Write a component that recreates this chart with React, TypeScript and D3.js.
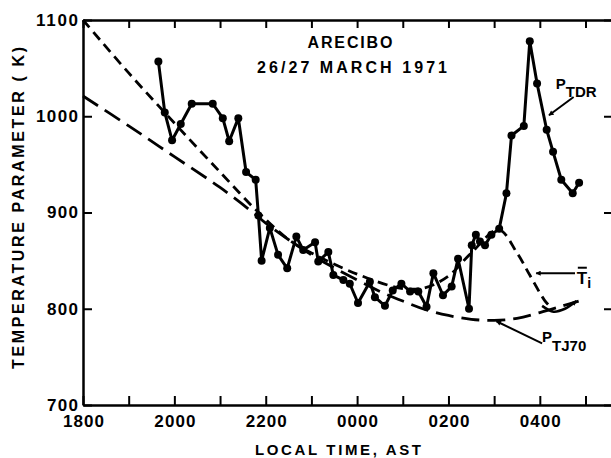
import React, { useEffect, useRef } from 'react'
import * as d3 from 'd3'

// time is hours after 1800 AST
const ptdrHours = [
    1.65, 1.79, 1.95, 2.14, 2.38, 2.84, 3.06, 3.2, 3.4, 3.57, 3.78, 3.84, 3.91,
    4.09, 4.27, 4.47, 4.67, 4.82, 5.08, 5.15, 5.37, 5.48, 5.7, 5.84, 6.02, 6.28,
    6.39, 6.61, 6.78, 6.97, 7.16, 7.34, 7.52, 7.67, 7.88, 8.07, 8.21, 8.45, 8.51,
    8.6, 8.69, 8.8, 8.94, 9.11, 9.27, 9.38, 9.65, 9.78, 9.94, 10.15, 10.29,
    10.47, 10.72, 10.86,
]
const ptdrValues = [
    1057, 1004, 975, 992, 1013, 1013, 998, 974, 998, 942, 934, 897, 850,
    884, 856, 842, 875, 861, 869, 849, 859, 835, 830, 826, 806, 828,
    812, 803, 819, 826, 818, 818, 802, 837, 814, 823, 852, 800, 866,
    877, 870, 866, 877, 883, 920, 980, 990, 1078, 1034, 986, 963,
    934, 920, 931,
]

const tiHours = [0, 1, 2, 3, 3.8, 4.5, 5, 6, 7, 7.5, 8, 8.5, 9.1, 9.5, 9.78, 10.1, 10.25]
const tiValues = [1100, 1045, 993, 942, 902, 872, 858, 836, 821, 822, 834, 858, 882, 858, 835, 809, 801]

const tj70Hours = [0, 1, 2, 3, 3.8, 4, 5, 6, 6.5, 7, 7.5, 8, 8.5, 9, 9.5, 10, 10.5, 10.85]
const tj70Values = [1021, 990, 958, 926, 897, 889, 856, 830, 818, 808, 799, 793, 789, 788, 790, 796, 803, 808]

const yTicks = [700, 800, 900, 1000, 1100]
const xTickHours = [0, 1, 2, 3, 4, 5, 6, 7, 8, 9, 10, 11]
const xTickLabels = ['1800', '', '2000', '', '2200', '', '0000', '', '0200', '', '0400', '']

const FONT = "'Liberation Sans', Arial, sans-serif"

export default function App() {
    const svgRef = useRef(null)

    useEffect(() => {
        const W = 611
        const H = 458
        const svg = d3.select(svgRef.current).attr('width', W).attr('height', H)
        svg.selectAll('*').remove()

        const x = d3.scaleLinear().domain([0, 11.58]).range([83, 612])
        const y = d3.scaleLinear().domain([700, 1100]).range([405, 20])

        const defs = svg.append('defs')
        defs.append('marker')
            .attr('id', 'arr')
            .attr('viewBox', '0 0 10 10')
            .attr('refX', 9)
            .attr('refY', 5)
            .attr('markerWidth', 7)
            .attr('markerHeight', 5)
            .attr('markerUnits', 'userSpaceOnUse')
            .attr('orient', 'auto')
            .append('path')
            .attr('d', 'M0,0 L10,5 L0,10 z')
            .attr('fill', '#000')

        const styleAxis = (g) => {
            g.select('.domain').attr('stroke', '#000').attr('stroke-width', 2.5)
            g.selectAll('.tick line').attr('stroke', '#000').attr('stroke-width', 2)
            g.selectAll('.tick text')
                .attr('fill', '#000')
                .style('font-family', FONT)
                .style('font-weight', 'bold')
                .style('font-size', '17px')
        }

        // frame + ticks
        svg.append('g')
            .attr('transform', `translate(0, ${y(700)})`)
            .call(
                d3.axisBottom(x)
                    .tickValues(xTickHours)
                    .tickSizeInner(-9)
                    .tickSizeOuter(0)
                    .tickPadding(10)
                    .tickFormat((d, i) => xTickLabels[i])
            )
            .call(styleAxis)
            .selectAll('.tick text')
            .attr('textLength', (d, i) => (xTickLabels[i] ? 41 : null))

        svg.append('g')
            .attr('transform', `translate(0, ${y(1100)})`)
            .call(d3.axisTop(x).tickValues(xTickHours).tickSizeInner(-8).tickSizeOuter(0).tickFormat(''))
            .call(styleAxis)

        svg.append('g')
            .attr('transform', `translate(${x(0)}, 0)`)
            .call(
                d3.axisLeft(y)
                    .tickValues(yTicks)
                    .tickSizeInner(-9)
                    .tickSizeOuter(0)
                    .tickPadding(5)
                    .tickFormat(d3.format('d'))
            )
            .call(styleAxis)
            .selectAll('.tick text')
            .attr('textLength', (d) => (d >= 1000 ? 42 : 31))

        svg.append('g')
            .attr('transform', `translate(${x(11.58)}, 0)`)
            .call(d3.axisRight(y).tickValues(yTicks).tickSizeInner(-8).tickSizeOuter(0).tickFormat(''))
            .call(styleAxis)

        // model curves
        const curveLine = d3
            .line()
            .x((d) => x(d[0]))
            .y((d) => y(d[1]))
            .curve(d3.curveCatmullRom.alpha(0.5))

        svg.append('path')
            .datum(tj70Hours.map((h, i) => [h, tj70Values[i]]))
            .attr('d', curveLine)
            .attr('fill', 'none')
            .attr('stroke', '#000')
            .attr('stroke-width', 2.8)
            .attr('stroke-dasharray', '18 8')

        svg.append('path')
            .datum(tiHours.map((h, i) => [h, tiValues[i]]))
            .attr('d', curveLine)
            .attr('fill', 'none')
            .attr('stroke', '#000')
            .attr('stroke-width', 2.8)
            .attr('stroke-dasharray', '10 6')

        // small hook where the curves meet at the right
        svg.append('path')
            .datum([[10.05, 803], [10.3, 797], [10.55, 800], [10.8, 808]])
            .attr('d', curveLine)
            .attr('fill', 'none')
            .attr('stroke', '#000')
            .attr('stroke-width', 2.5)
            .attr('marker-end', 'url(#arr)')

        // measured P_TDR
        const ptdr = ptdrHours.map((h, i) => [h, ptdrValues[i]])
        svg.append('path')
            .datum(ptdr)
            .attr('d', d3.line().x((d) => x(d[0])).y((d) => y(d[1])))
            .attr('fill', 'none')
            .attr('stroke', '#000')
            .attr('stroke-width', 3)
            .attr('stroke-linejoin', 'round')

        svg.append('g')
            .selectAll('circle')
            .data(ptdr)
            .enter()
            .append('circle')
            .attr('cx', (d) => x(d[0]))
            .attr('cy', (d) => y(d[1]))
            .attr('r', 4)
            .attr('fill', '#000')

        // annotation arrows
        const arrow = (h0, v0, h1, v1) =>
            svg.append('line')
                .attr('x1', x(h0))
                .attr('y1', y(v0))
                .attr('x2', x(h1))
                .attr('y2', y(v1))
                .attr('stroke', '#000')
                .attr('stroke-width', 2)
                .attr('marker-end', 'url(#arr)')

        arrow(10.74, 1020, 10.2, 1001)
        arrow(10.77, 837, 9.92, 837)
        arrow(10.05, 764, 9.05, 787)

        const label = (tx, ty, size) =>
            svg.append('text')
                .attr('x', tx)
                .attr('y', ty)
                .style('font-family', FONT)
                .style('font-weight', 'bold')
                .style('font-size', size + 'px')
                .attr('fill', '#000')

        const pTdr = label(x(10.35), y(1028), 15)
        pTdr.append('tspan').text('P')
        pTdr.append('tspan').attr('dy', 8).text('TDR')

        const ti = label(x(10.81), y(826), 17)
        ti.append('tspan').text('T')
        ti.append('tspan').attr('dy', 4).style('font-size', '14px').text('i')
        svg.append('line')
            .attr('x1', x(10.81) + 1)
            .attr('x2', x(10.81) + 10)
            .attr('y1', y(826) - 16)
            .attr('y2', y(826) - 16)
            .attr('stroke', '#000')
            .attr('stroke-width', 2)

        const pTj = label(x(10.05), y(765), 15)
        pTj.append('tspan').text('P')
        pTj.append('tspan').attr('dy', 9).text('TJ70')

        // title
        label(350, 48, 16).attr('text-anchor', 'middle').attr('textLength', 85).text('ARECIBO')
        label(352, 73, 16).attr('text-anchor', 'middle').attr('textLength', 190).text('26/27  MARCH  1971')

        // axis titles
        label(338, 455, 15).attr('text-anchor', 'middle').attr('textLength', 166).text('LOCAL TIME, AST')
        label(0, 0, 16)
            .attr('transform', 'translate(24, 208) rotate(-90)')
            .attr('text-anchor', 'middle')
            .attr('textLength', 322)
            .text('TEMPERATURE PARAMETER ( K)')
    }, [])

    return (
        <div style={{ position: 'absolute', left: 0, top: 0, background: '#fff' }}>
            <svg ref={svgRef} style={{ display: 'block' }} />
        </div>
    )
}
